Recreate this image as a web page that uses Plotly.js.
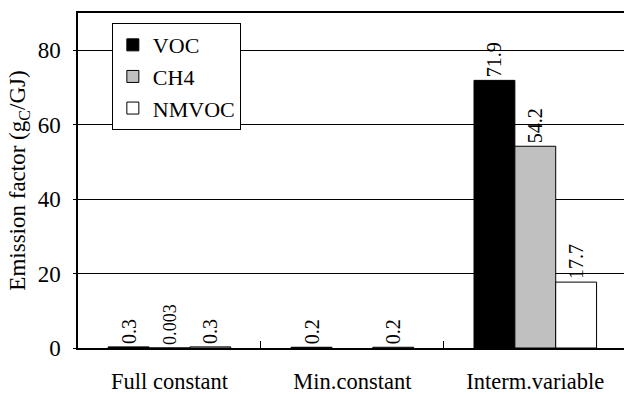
<!DOCTYPE html>
<html>
<head>
<meta charset="utf-8">
<script src="https://cdn.plot.ly/plotly-3.0.1.min.js"></script>
<style>html,body{margin:0;padding:0;background:#fff;}#chart{width:624px;height:394px;}</style>
</head>
<body>
<div id="chart"></div>
<script>
const categories = ["Full constant", "Min.constant", "Interm.variable"];
const vocValues = [0.3, 0.2, 71.9];
const ch4Values = [0.003, null, 54.2];
const nmvocValues = [0.3, 0.2, 17.7];
const seriesNames = ["VOC", "CH4", "NMVOC"];
const seriesColors = ["#000000", "#c0c0c0", "#ffffff"];
const yTicks = [0, 20, 40, 60, 80];
const yTickText = ["0", "20", "40", "60", "80"];

const font = "Liberation Serif";
const allValues = [vocValues, ch4Values, nmvocValues];
const traces = allValues.map((vals, i) => ({
  type: "bar",
  name: seriesNames[i],
  x: categories,
  y: vals,
  text: vals.map(v => v === null ? "" : String(v)),
  textposition: "outside",
  textangle: -90,
  cliponaxis: false,
  textfont: {family: font, size: 20, color: "#000"},
  marker: {color: seriesColors[i], line: {color: "#000", width: 1}}
}));

const layout = {
  width: 624, height: 394,
  margin: {l: 78, r: 0, t: 13, b: 46},
  paper_bgcolor: "#fff", plot_bgcolor: "#fff",
  font: {family: font, size: 22, color: "#000"},
  barmode: "group",
  bargap: 0.33,
  bargroupgap: 0,
  showlegend: true,
  legend: {
    x: 0.062, y: 0.97, xanchor: "left", yanchor: "top",
    bgcolor: "#fff", bordercolor: "#000", borderwidth: 1,
    font: {family: font, size: 22, color: "#000"},
    itemwidth: 30, tracegroupgap: 0
  },
  xaxis: {
    type: "category",
    range: [-0.5, 2.485],
    showline: true, linecolor: "#000", linewidth: 2, mirror: true,
    ticks: "inside", tickson: "boundaries", ticklen: 7, tickcolor: "#000", tickwidth: 1,
    ticklabelstandoff: 12,
    tickfont: {family: font, size: 22.5, color: "#000"},
    showgrid: false, zeroline: false
  },
  yaxis: {
    range: [0, 90],
    tickvals: yTicks,
    ticktext: yTickText.map(t => t + "\u2004"),
    showline: true, linecolor: "#000", linewidth: 2,
    ticks: "outside", ticklen: 3, tickcolor: "#000",
    tickfont: {family: font, size: 23, color: "#000"},
    showgrid: true, gridcolor: "#000", gridwidth: 1,
    zeroline: false,
    title: {text: "Emission factor (g<sub>C</sub>/GJ)", font: {family: font, size: 23, color: "#000"}, standoff: 6}
  }
};

Plotly.newPlot("chart", traces, layout, {displayModeBar: false, staticPlot: true});
</script>
</body>
</html>
